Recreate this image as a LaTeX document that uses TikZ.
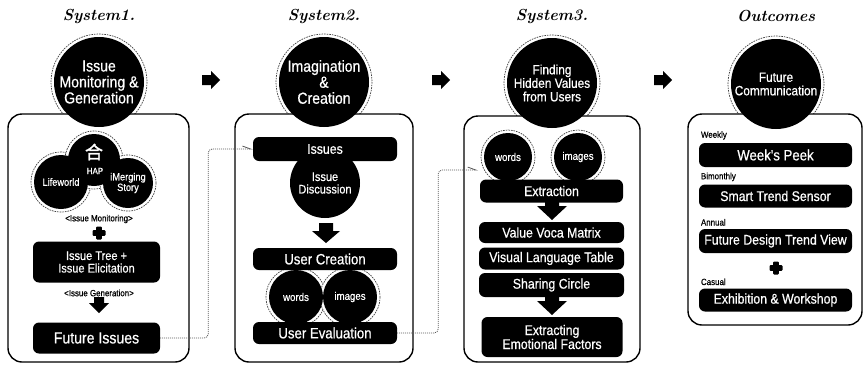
\documentclass[tikz,border=0pt]{standalone}
\usepackage{fontspec}
\newfontfamily\condsans[FakeStretch=0.88, FakeBold=0.6]{Liberation Sans}
\newfontfamily\cjk[FakeBold=1.5]{Noto Sans CJK SC}
\usetikzlibrary{positioning,calc,arrows.meta}

\newcommand{\fs}[1]{\condsans\fontsize{#1}{#1}\selectfont}
\newcommand{\plusat}[1]{%
  \fill[rounded corners=1pt] ($(#1)+(-6.5,-2.8)$) rectangle ($(#1)+(6.5,2.8)$);
  \fill[rounded corners=1pt] ($(#1)+(-2.8,-6.5)$) rectangle ($(#1)+(2.8,6.5)$);}
% fat arrow pointing down: centre, half shaft, half head, shaft length, head length
\newcommand{\fatdown}[5]{%
  \fill (#1) ++({-#2},{-(#4+#5)/2}) -- ++({2*#2},0) -- ++(0,#4) -- ++({#3-#2},0)
    -- ++({-#3},#5) -- ++({-#3},{-#5}) -- ++({#3-#2},0) -- cycle;}
% fat arrow pointing right
\newcommand{\fatright}[1]{%
  \fill (#1) ++(-9,-5) -- ++(9,0) -- ++(0,-4) -- ++(9,9) -- ++(-9,9) -- ++(0,-4) -- ++(-9,0) -- cycle;}

\begin{document}
\begin{tikzpicture}[
    x=1pt, y=-1pt,
    title/.style={font=\bfseries\itshape\fontsize{16}{16}\selectfont, inner sep=0pt},
    panel/.style={draw, line width=1.4pt, rounded corners=14pt, fill=white, inner sep=0pt},
    ring/.style={draw=black!75, dash pattern=on 1.6pt off 1pt, line width=0.7pt, fill=white},
    disc/.style={circle, fill=black, text=white, inner sep=0pt, align=center, font=\fs{16}},
    blk/.style={rectangle, rounded corners=6pt, fill=black, text=white, inner sep=0pt, align=center, font=\fs{14}},
    note/.style={font=\fs{9}, inner sep=0pt},
    link/.style={draw=black!65, dash pattern=on 1pt off 1pt, line width=0.8pt, rounded corners=4pt, -{Straight Barb[harpoon, length=8pt, angle'=40]}}
]
    \useasboundingbox (0,0) rectangle (867,367);

    % Titles
    \node[title] (t1) at (99,16) {System1.};
    \node[title] (t2) at (324,16) {System2.};
    \node[title] (t3) at (552,16) {System3.};
    \node[title] (t4) at (776,16) {Outcomes};

    % Heads and panels
    \coordinate (c1) at (99,82);
    \coordinate (c2) at (324,82);
    \coordinate (c3) at (552,83);
    \coordinate (c4) at (776,84);
    \foreach \c in {c1,c2,c3,c4}
        \draw[ring] (\c) circle (48);

    \node[panel, minimum width=181pt, minimum height=248pt] (pan1) at (98.5,238) {};
    \node[panel, minimum width=178pt, minimum height=248pt] (pan2) at (324,238) {};
    \node[panel, minimum width=176pt, minimum height=246pt] (pan3) at (552,239) {};
    \node[panel, minimum width=174pt, minimum height=211pt] (pan4) at (775,219.5) {};

    \node[disc, minimum size=90pt] (sys1) at (c1) {Issue\\Monitoring \&\\Generation};
    \node[disc, minimum size=90pt] (sys2) at (c2) {Imagination\\\&\\Creation};
    \node[disc, minimum size=90pt, font=\fs{13.5}] (sys3) at (c3) {Finding\\Hidden Values\\from Users};
    \node[disc, minimum size=90pt, font=\fs{13.5}] (sys4) at (c4) {Future\\Communication};

    \coordinate (ar1) at (211,80);
    \coordinate (ar2) at (441,80);
    \coordinate (ar3) at (663,80);
    \fatright{ar1}
    \fatright{ar2}
    \fatright{ar3}

    % System 1
    \coordinate (lw) at (61,182);
    \coordinate (hp) at (94,160);
    \coordinate (im) at (128,183);
    \draw[ring] (lw) circle (30);
    \draw[ring] (hp) circle (29);
    \draw[ring] (im) circle (28);
    \node[disc, minimum size=52pt] (hapdisc) at (hp) {};
    \node[disc, minimum size=54pt, font=\fs{10.5}] (lifew) at (lw) {Lifeworld};
    \node[disc, minimum size=50pt, font=\fs{10.5}] (imstory) at (im) {iMerging\\Story};
    \node[text=white, font=\cjk\fontsize{18}{18}\selectfont, inner sep=0pt] (hapsign) at (94,152) {合};
    \node[text=white, font=\fs{9}, inner sep=0pt] (haplbl) at (95,171) {HAP};

    \node[note] (monit) at (99,219) {<Issue Monitoring>};
    \coordinate (plus1) at (99,233);
    \plusat{plus1}
    \node[blk, minimum width=127pt, minimum height=41pt, font=\fs{12.5}] (tree) at (96.5,262) {Issue Tree +\\Issue Elicitation};
    \node[note] (gener) at (99,293) {<Issue Generation>};
    \coordinate (ad1) at (99,305);
    \fatdown{ad1}{5}{10}{6}{10}
    \node[blk, minimum width=127pt, minimum height=31pt, font=\fs{16}] (futiss) at (96.5,338) {Future Issues};

    % System 2
    \node[disc, minimum size=70pt, font=\fs{12.5}] (discuss) at (325,183) {Issue\\Discussion};
    \node[blk, minimum width=144pt, minimum height=24pt] (issues) at (325,149) {Issues};
    \coordinate (ad2) at (326,233);
    \fatdown{ad2}{7}{14}{8}{12}
    \coordinate (wd2) at (296,297);
    \coordinate (ig2) at (350,297);
    \draw[ring] (wd2) circle (30);
    \draw[ring] (ig2) circle (30);
    \node[disc, minimum size=54pt, font=\fs{11}] (words2) at (wd2) {words};
    \node[disc, minimum size=54pt, font=\fs{11}] (images2) at (ig2) {images};
    \node[blk, minimum width=144pt, minimum height=22pt, font=\fs{15}] (ucreate) at (325,259) {User Creation};
    \node[blk, minimum width=144pt, minimum height=22pt, font=\fs{15}] (ueval) at (325,333) {User Evaluation};

    % System 3
    \coordinate (wd3) at (508,157);
    \coordinate (ig3) at (578,157);
    \draw[ring] (wd3) circle (27);
    \draw[ring] (ig3) circle (27);
    \node[disc, minimum size=48pt, font=\fs{11}] (words3) at (wd3) {words};
    \node[disc, minimum size=48pt, font=\fs{11}] (images3) at (ig3) {images};
    \node[blk, minimum width=143pt, minimum height=23pt] (extract) at (551.5,191) {Extraction};
    \coordinate (ad3) at (552,210);
    \fatdown{ad3}{7}{15}{6}{14}
    \node[blk, minimum width=145pt, minimum height=21pt] (vvm) at (551.5,232.5) {Value Voca Matrix};
    \node[blk, minimum width=145pt, minimum height=22pt] (vlt) at (551.5,258.5) {Visual Language Table};
    \node[blk, minimum width=145pt, minimum height=24pt] (share) at (551.5,285) {Sharing Circle};
    \coordinate (ad4) at (552,305);
    \fatdown{ad4}{7}{15}{6}{14}
    \node[blk, minimum width=141pt, minimum height=40pt] (emot) at (552,337) {Extracting\\Emotional Factors};

    % Outcomes
    \node[blk, minimum width=153pt, minimum height=24pt, font=\fs{15}] (weekpk) at (775.5,155) {Week's Peek};
    \node[blk, minimum width=153pt, minimum height=23pt] (smart) at (775.5,196) {Smart Trend Sensor};
    \node[blk, minimum width=153pt, minimum height=24pt] (fdtv) at (775.5,241) {Future Design Trend View};
    \node[blk, minimum width=153pt, minimum height=23pt] (exhib) at (775.5,300) {Exhibition \& Workshop};
    \node[note, anchor=south west] (weekly) at ([xshift=2pt, yshift=3pt]weekpk.north west) {Weekly};
    \node[note, anchor=south west] (bimon) at ([xshift=2pt, yshift=3pt]smart.north west) {Bimonthly};
    \node[note, anchor=south west] (annual) at ([xshift=2pt, yshift=3pt]fdtv.north west) {Annual};
    \node[note, anchor=south west] (casual) at ([xshift=2pt, yshift=3pt]exhib.north west) {Casual};
    \coordinate (plus2) at (776,268);
    \plusat{plus2}

    % Links
    \coordinate (in3) at (478,170);
    \draw[link] (futiss.east) -- ++(48,0) |- (issues.west);
    \draw[link] (ueval.east) -- ++(41,0) |- (in3);
\end{tikzpicture}
\end{document}
